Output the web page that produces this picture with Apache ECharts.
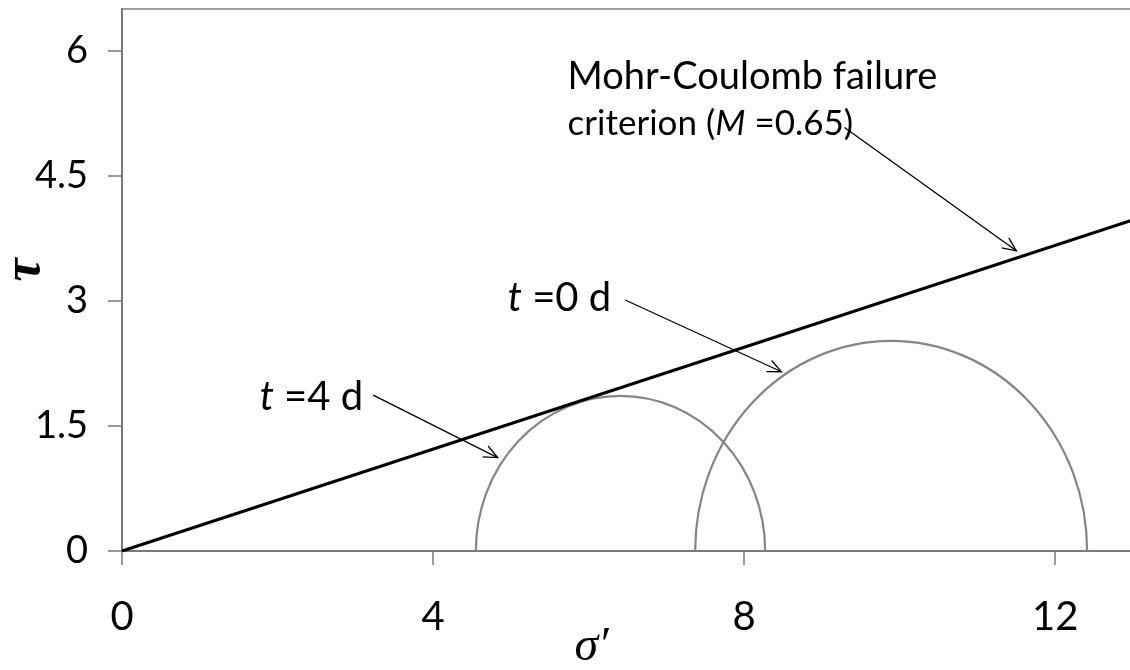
<!DOCTYPE html>
<html>
<head>
<meta charset="utf-8">
<script src="https://cdn.jsdelivr.net/npm/echarts@6/dist/echarts.min.js"></script>
<style>
html,body{margin:0;padding:0;background:#fff;}
#chart{width:1130px;height:670px;}
</style>
</head>
<body>
<div id="chart"></div>
<script>
// ---- data ----
const xTicks = [0, 4, 8, 12];
const yTicks = [0, 1.5, 3, 4.5, 6];
const failureLineX = [0, 13];
const failureLineY = [0, 3.97];
const circleNames = ['t = 4 d', 't = 0 d'];
const circleCenters = [6.41, 9.89];
const circleRadii = [1.86, 2.52];

// ---- annotation layout (data coordinates) ----
const annotations = [
  { lines: [['n', 'Mohr-Coulomb failure']], at: [5.73, 5.69], size: 38 },
  { lines: [['n', 'criterion ('], ['i', 'M'], ['n', ' =0.65)']], at: [5.73, 5.12], size: 35 },
  { lines: [['i', 't'], ['n', ' =0 d']], at: [4.96, 3.03], size: 40 },
  { lines: [['i', 't'], ['n', ' =4 d']], at: [1.77, 1.85], size: 40 }
];
const arrows = [
  { from: [9.29, 5.08], to: [11.50, 3.60] },
  { from: [6.47, 3.01], to: [8.48, 2.15] },
  { from: [3.23, 1.87], to: [4.83, 1.12] }
];

const chart = echarts.init(document.getElementById('chart'), null, { renderer: 'canvas' });
const FONT = 'Lato, "DejaVu Sans", sans-serif';

const option = {
  animation: false,
  backgroundColor: '#ffffff',
  grid: {
    left: 122, top: 9, width: 1011, height: 542,
    outerBoundsMode: 'none', containLabel: false,
    show: true, borderColor: '#808080', borderWidth: 1.5, backgroundColor: 'transparent'
  },
  xAxis: {
    type: 'value', min: 0, max: 13,
    name: 'σ′', nameLocation: 'middle', nameGap: 72, nameMoveOverlap: false,
    nameTextStyle: { fontFamily: '"Liberation Serif", serif', fontStyle: 'italic', fontSize: 48, color: '#000', padding: [0, 72, 0, 0] },
    axisLine: { show: true, onZero: false, lineStyle: { color: '#7a7a7a', width: 2 } },
    axisTick: { show: true, inside: false, length: 14, customValues: xTicks, lineStyle: { color: '#7a7a7a', width: 1.5 } },
    axisLabel: { customValues: xTicks, margin: 46, fontSize: 40, fontFamily: FONT, color: '#000' },
    splitLine: { show: false }
  },
  yAxis: {
    type: 'value', min: 0, max: 6.5,
    name: 'τ', nameLocation: 'middle', nameGap: 70, nameRotate: 90, nameMoveOverlap: false,
    nameTextStyle: { fontFamily: '"Liberation Serif", serif', fontStyle: 'italic', fontWeight: 'bold', fontSize: 52, color: '#000', padding: [0, 0, 0, 20] },
    axisLine: { show: true, onZero: false, lineStyle: { color: '#7a7a7a', width: 2 } },
    axisTick: { show: true, inside: false, length: 14, customValues: yTicks, lineStyle: { color: '#7a7a7a', width: 1.5 } },
    axisLabel: { customValues: yTicks, margin: 34, fontSize: 38, fontFamily: FONT, color: '#000' },
    splitLine: { show: false }
  },
  series: [
    {
      name: 'Mohr-Coulomb failure criterion',
      type: 'line',
      data: failureLineX.map((x, i) => [x, failureLineY[i]]),
      symbol: 'none',
      lineStyle: { color: '#000', width: 3 },
      z: 3
    },
    {
      name: 'Mohr circles',
      type: 'custom',
      data: circleCenters.map((c, i) => ({ name: circleNames[i], value: [c, circleRadii[i]] })),
      encode: { x: 0, y: 1 },
      clip: false,
      renderItem: function (params, api) {
        const c = api.value(0), r = api.value(1);
        const p1 = api.coord([c - r, 0]);
        const p2 = api.coord([c + r, 0]);
        const rx = (p2[0] - p1[0]) / 2;
        const ry = api.size([0, r])[1];
        return {
          type: 'path',
          shape: { pathData: 'M' + p1[0] + ' ' + p1[1] + ' A' + rx + ' ' + ry + ' 0 0 1 ' + p2[0] + ' ' + p2[1] },
          style: { fill: 'none', stroke: '#858585', lineWidth: 2.2 }
        };
      },
      z: 2
    }
  ]
};
chart.setOption(option);

// ---- annotations as graphic elements placed through the axes ----
const px = (p) => chart.convertToPixel({ gridIndex: 0 }, p);
const graphics = [];
annotations.forEach(a => {
  const p = px(a.at);
  graphics.push({
    type: 'text', x: p[0], y: p[1], z: 10,
    style: {
      text: a.lines.map(s => '{' + s[0] + '|' + s[1] + '}').join(''),
      verticalAlign: 'middle', align: 'left',
      rich: {
        n: { fontFamily: FONT, fontSize: a.size, fill: '#000' },
        i: { fontFamily: FONT, fontSize: a.size, fontStyle: 'italic', fill: '#000' }
      }
    }
  });
});
arrows.forEach(a => {
  const s = px(a.from), e = px(a.to);
  const ang = Math.atan2(e[1] - s[1], e[0] - s[0]);
  const L = 15, spread = 0.42;
  const h1 = [e[0] - L * Math.cos(ang - spread), e[1] - L * Math.sin(ang - spread)];
  const h2 = [e[0] - L * Math.cos(ang + spread), e[1] - L * Math.sin(ang + spread)];
  graphics.push({ type: 'line', z: 10, shape: { x1: s[0], y1: s[1], x2: e[0], y2: e[1] }, style: { stroke: '#000', lineWidth: 1.3 } });
  graphics.push({ type: 'polyline', z: 10, shape: { points: [h1, e, h2] }, style: { stroke: '#000', lineWidth: 1.3, fill: null } });
});
chart.setOption({ graphic: graphics });
</script>
</body>
</html>
